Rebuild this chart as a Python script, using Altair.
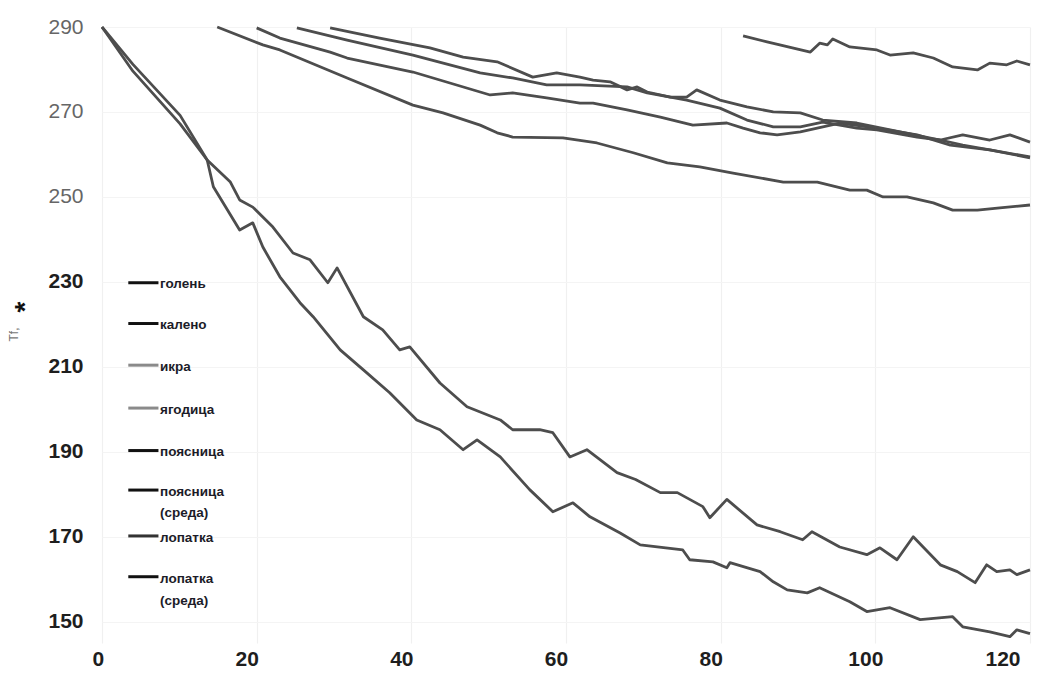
import altair as alt
import pandas as pd

# ---- series data ----
a_x = [0, 4.0, 10.1, 13.6, 14.4, 17.8, 19.5, 20.8, 23.0, 25.6, 27.3, 30.8, 33.8, 37.2, 40.7, 43.7, 46.7, 48.5,
       51.5, 55.3, 58.3, 60.9, 63.1, 67.0, 69.6, 75.1, 76.0, 79.0, 80.8, 81.2, 85.1, 86.8, 88.6, 91.2, 92.8,
       96.7, 98.9, 101.9, 105.8, 110.0, 111.3, 114.8, 117.4, 118.3, 120.0]
a_y = [290, 279.6, 267.2, 258.7, 252.4, 242.2, 243.9, 238.2, 231.2, 225.1, 221.8, 214.0, 209.3, 203.9, 197.5,
       195.2, 190.5, 192.8, 188.8, 181.1, 175.9, 178.0, 174.7, 170.9, 168.1, 166.9, 164.6, 164.1, 162.7, 163.9,
       161.8, 159.4, 157.5, 156.8, 158.0, 154.7, 152.4, 153.3, 150.5, 151.2, 148.8, 147.6, 146.5, 148.1, 147.2]

b_x = [0, 4.0, 10.1, 13.6, 16.6, 17.8, 19.5, 22.1, 24.7, 26.9, 29.2, 30.4, 33.8, 36.3, 38.5, 39.8, 43.7, 47.2,
       51.5, 53.1, 56.6, 58.3, 60.5, 62.7, 66.6, 69.0, 72.2, 74.4, 77.7, 78.6, 80.8, 84.7, 87.7, 90.6, 91.8,
       95.4, 98.9, 100.6, 102.8, 104.9, 108.4, 110.6, 112.9, 114.4, 115.7, 117.4, 118.3, 120.0]
b_y = [290, 281.2, 269.2, 258.7, 253.5, 249.3, 247.6, 242.9, 236.8, 235.2, 229.8, 233.3, 221.8, 218.7, 214.0,
       214.7, 206.2, 200.6, 197.5, 195.2, 195.2, 194.5, 188.8, 190.5, 185.1, 183.5, 180.4, 180.4, 177.1, 174.5,
       178.8, 172.8, 171.2, 169.3, 171.2, 167.6, 165.8, 167.4, 164.6, 170.0, 163.4, 161.8, 159.2, 163.4, 161.8,
       162.2, 161.1, 162.2]

u1_x = [14.9, 20.8, 23.0, 31.7, 40.2, 44.1, 48.9, 51.1, 53.1, 59.6, 64.0, 68.7, 73.1, 77.3, 81.6, 88.1,
        92.5, 96.7, 98.9, 101.0, 104.1, 107.5, 110.0, 113.2, 116.1, 120.0]
u1_y = [290, 285.8, 284.6, 278.0, 271.6, 269.8, 266.9, 265.1, 264.1, 263.9, 262.7, 260.4, 258.0, 257.1,
        255.6, 253.5, 253.5, 251.6, 251.6, 250.0, 250.0, 248.6, 246.9, 246.9, 247.4, 248.1]

t1_x = [20.0, 23.0, 29.5, 31.7, 40.2, 50.2, 53.1, 57.5, 61.8, 63.5, 67.9, 72.2, 76.4, 80.8, 82.9, 85.1,
        87.3, 90.3, 95.4, 100.2, 105.4, 109.7, 114.8, 120.0]
t1_y = [289.8, 287.4, 284.1, 282.7, 279.4, 274.0, 274.5, 273.3, 272.1, 272.1, 270.5, 268.8, 266.9, 267.4,
        266.2, 265.1, 264.6, 265.3, 267.4, 266.2, 264.6, 262.2, 261.1, 259.2]

t2_x = [25.2, 31.7, 40.2, 48.9, 53.1, 57.5, 61.8, 67.9, 70.5, 75.6, 79.9, 83.4, 86.8, 90.3, 93.2, 97.6,
        100.2, 105.4, 108.4, 111.3, 114.8, 117.4, 120.0]
t2_y = [289.8, 286.9, 283.4, 279.2, 278.0, 276.4, 276.4, 275.9, 274.5, 272.8, 270.9, 268.1, 266.5, 266.5,
        267.6, 266.2, 265.8, 264.1, 263.4, 264.6, 263.4, 264.6, 262.9]

t3_x = [29.5, 35.9, 42.4, 46.7, 51.1, 55.7, 58.8, 61.8, 63.5, 65.7, 67.9, 69.2, 70.5, 73.5, 75.6, 76.9,
        79.9, 83.4, 86.8, 90.3, 93.2, 97.6, 103.2, 108.4, 111.3, 114.8, 120.0]
t3_y = [289.8, 287.4, 285.1, 282.9, 281.8, 278.2, 279.2, 278.2, 277.5, 277.1, 275.2, 275.9, 274.7, 273.5,
        273.5, 275.2, 272.8, 271.2, 270.0, 269.8, 268.1, 267.4, 265.3, 263.4, 262.2, 261.1, 259.4]

t4_x = [82.9, 86.0, 91.6, 92.8, 93.8, 94.5, 96.7, 100.2, 101.9, 104.9, 107.5, 110.0, 113.2, 114.8,
        117.0, 118.3, 120.0]
t4_y = [287.9, 286.5, 284.1, 286.2, 285.8, 287.2, 285.3, 284.6, 283.4, 283.9, 282.7, 280.6, 279.9,
        281.5, 281.1, 282.0, 281.1]

series = [
    ("лопатка (среда)", a_x, a_y),
    ("поясница (среда)", b_x, b_y),
    ("ягодица", u1_x, u1_y),
    ("икра", t1_x, t1_y),
    ("калено", t2_x, t2_y),
    ("голень", t3_x, t3_y),
    ("поясница", t4_x, t4_y),
]

# ---- legend (drawn inside plot, in data units) ----
legend_lines = ["голень", "калено", "икра", "ягодица", "поясница", "поясница", "(среда)", "лопатка", "лопатка", "(среда)"]
legend_text_y = [229.5, 219.9, 210.0, 199.9, 190.0, 180.6, 175.6, 169.8, 160.1, 154.9]
swatch_y = [229.8, 220.2, 210.4, 200.3, 190.3, 181.0, 170.2, 160.6]
swatch_color = ["#111111", "#111111", "#8a8a8a", "#8a8a8a", "#111111", "#111111", "#333333", "#111111"]

x_ticks = [0, 20, 40, 60, 80, 100, 120]
y_ticks = [150, 170, 190, 210, 230, 250, 270, 290]

rows = []
for name, xs, ys in series:
    for i, (xv, yv) in enumerate(zip(xs, ys)):
        rows.append({"series": name, "t": xv, "T": yv, "order": i})
df = pd.DataFrame(rows)

leg_text = pd.DataFrame({"label": legend_lines, "y": legend_text_y, "x": [7.5] * len(legend_lines)})
leg_sw = pd.DataFrame({"y": swatch_y, "x0": [3.4] * len(swatch_y), "x1": [7.3] * len(swatch_y), "c": swatch_color})

xscale = alt.Scale(domain=[0, 120], nice=False, zero=False)
yscale = alt.Scale(domain=[145, 290], nice=False, zero=False)

lines = alt.Chart(df).mark_line(color="#4d4d4d", strokeWidth=2.8, strokeJoin="round").encode(
    x=alt.X("t:Q", scale=xscale,
            axis=alt.Axis(values=x_ticks, title=None, domain=False, ticks=False, labelPadding=5,
                          labelFontSize=21, labelFontWeight="bold", labelColor="#1e1e1e",
                          labelFont="Liberation Sans", labelOffset=-10,
                          grid=True, gridColor="#f0f0f0", gridWidth=1.2)),
    y=alt.Y("T:Q", scale=yscale,
            axis=alt.Axis(values=y_ticks, title="Tf,", domain=False, ticks=False, labelPadding=19,
                          labelFontSize=21, labelFont="Liberation Sans",
                          labelColor={"condition": {"test": "datum.value <= 235", "value": "#1e1e1e"},
                                      "value": "#666666"},
                          labelFontWeight={"condition": {"test": "datum.value <= 235", "value": "bold"},
                                           "value": "normal"},
                          grid=True, gridColor="#f4f4f4", gridWidth=1,
                          titleFontSize=12, titleColor="#777777", titleFontWeight="normal",
                          titleX=-82, titleY=307, titleAngle=270, titleFont="Liberation Sans")),
    detail="series:N",
    order="order:Q",
)

sw = alt.Chart(leg_sw).mark_rule(strokeWidth=3).encode(
    x=alt.X("x0:Q", scale=xscale),
    x2="x1:Q",
    y=alt.Y("y:Q", scale=yscale),
    color=alt.Color("c:N", scale=None),
)

txt = alt.Chart(leg_text).mark_text(align="left", baseline="middle", fontSize=13.5, fontWeight="bold",
                                    color="#1c1c28", font="Liberation Sans").encode(
    x=alt.X("x:Q", scale=xscale),
    y=alt.Y("y:Q", scale=yscale),
    text="label:N",
)

star = alt.Chart(pd.DataFrame({"s": ["*"]})).mark_text(
    fontSize=28, fontWeight="bold", color="#111111", angle=270, font="Liberation Sans"
).encode(x=alt.value(-76), y=alt.value(280), text="s:N")

chart = alt.layer(lines, sw, txt, star).properties(
    width=928, height=616,
    autosize=alt.AutoSizeParams(type="none"),
    padding={"left": 102, "top": 27, "right": 12, "bottom": 37},
    background="white",
).configure_view(stroke=None)

chart.save("out.html", embed_options={"renderer": "svg", "actions": False})
